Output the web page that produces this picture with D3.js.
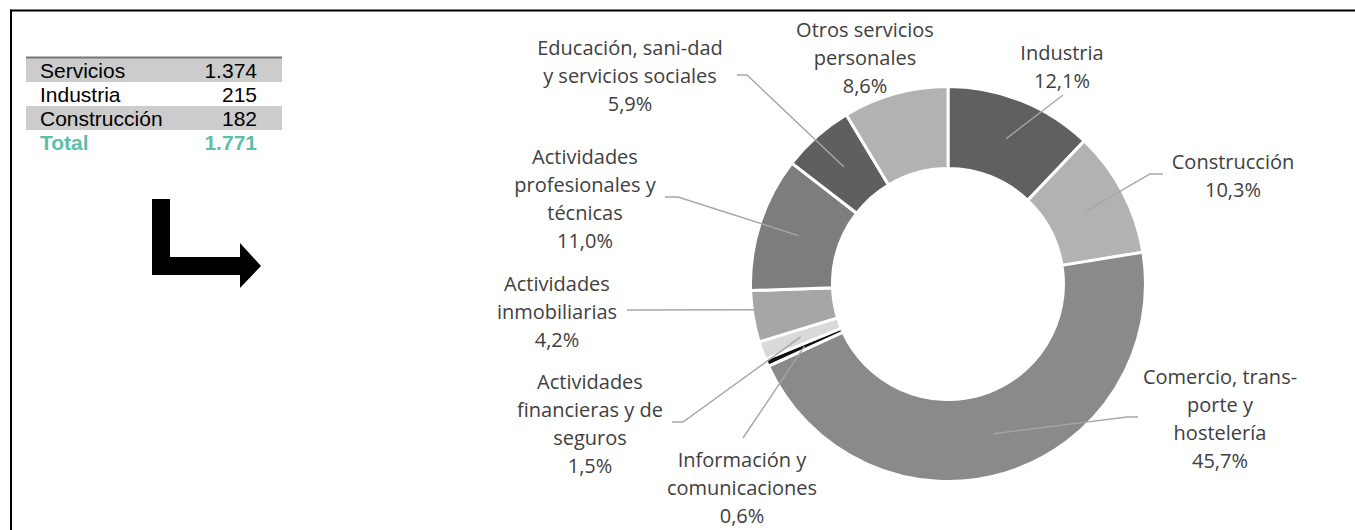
<!DOCTYPE html>
<html>
<head>
<meta charset="utf-8">
<script src="https://cdn.jsdelivr.net/npm/d3@7"></script>
<style>
  html, body { margin: 0; padding: 0; background: #fff; }
  svg { display: block; }
</style>
</head>
<body>
<svg id="chart" width="1355" height="530"></svg>
<script>
// Employment by sector (thousands) shown in the summary table
const sectorNames = ["Servicios", "Industria", "Construcción"];
const sectorValues = ["1.374", "215", "182"];
const totalLabel = "Total";
const totalValue = "1.771";

// Breakdown by activity branch (% of total)
const categories = [
  "Industria",
  "Construcción",
  "Comercio, trans-porte y hostelería",
  "Información y comunicaciones",
  "Actividades financieras y de seguros",
  "Actividades inmobiliarias",
  "Actividades profesionales y técnicas",
  "Educación, sani-dad y servicios sociales",
  "Otros servicios personales"
];
const shares = [12.1, 10.3, 45.7, 0.6, 1.5, 4.2, 11.0, 5.9, 8.6];

// How each category name wraps on its label
const labelLines = [
  ["Industria"],
  ["Construcción"],
  ["Comercio, trans-", "porte y", "hostelería"],
  ["Información y", "comunicaciones"],
  ["Actividades", "financieras y de", "seguros"],
  ["Actividades", "inmobiliarias"],
  ["Actividades", "profesionales y", "técnicas"],
  ["Educación, sani-dad", "y servicios sociales"],
  ["Otros servicios", "personales"]
];

const sliceColors = ["#606060", "#b2b2b2", "#8a8a8a", "#111111", "#d9d9d9",
                     "#a6a6a6", "#7d7d7d", "#5f5f5f", "#b2b2b2"];

// Label placement: centre x, centre y of first line, and leader route
const labelLayout = [
  { x: 1062, y: 53,  route: [[1063, 95]] },
  { x: 1233, y: 162, route: [[1150, 174], [1163, 174]] },
  { x: 1220, y: 377, route: [[1127, 417], [1138, 417]] },
  { x: 742,  y: 460, route: [[743, 438]] },
  { x: 590,  y: 382, route: [[683, 422], [672, 422]] },
  { x: 557,  y: 284, route: [[627, 310]] },
  { x: 585,  y: 157, route: [[678, 197], [665, 197]] },
  { x: 630,  y: 48,  route: [[747, 75], [737, 75]] },
  { x: 865,  y: 30,  route: null }
];

const svg = d3.select("#chart");

// Frame lines (top and left)
svg.append("line").attr("x1", 10).attr("x2", 1355).attr("y1", 10.5).attr("y2", 10.5)
  .attr("stroke", "#000").attr("stroke-width", 2);
svg.append("line").attr("x1", 11).attr("x2", 11).attr("y1", 9.5).attr("y2", 530)
  .attr("stroke", "#000").attr("stroke-width", 2);

// ---- Summary table ----
const table = svg.append("g").attr("font-family", "Liberation Sans, Arial, sans-serif")
  .attr("font-size", 21);
const rowH = 24, tableTop = 58, tableLeft = 26, tableRight = 282;
sectorNames.forEach((name, i) => {
  const y0 = tableTop + i * rowH;
  if (i % 2 === 0) {
    table.append("rect").attr("x", tableLeft).attr("y", y0)
      .attr("width", tableRight - tableLeft).attr("height", rowH).attr("fill", "#cccccc");
  }
  table.append("text").attr("x", 40).attr("y", y0 + 19.5).attr("fill", "#000").text(name);
  table.append("text").attr("x", 257).attr("y", y0 + 19.5).attr("text-anchor", "end")
    .attr("fill", "#000").text(sectorValues[i]);
});
table.append("line").attr("x1", tableLeft).attr("x2", tableRight)
  .attr("y1", tableTop - 0.5).attr("y2", tableTop - 0.5)
  .attr("stroke", "#777").attr("stroke-width", 2);
const totY = tableTop + sectorNames.length * rowH + 19.5;
table.append("text").attr("x", 40).attr("y", totY).attr("fill", "#5bbfa9")
  .attr("font-weight", "bold").text(totalLabel);
table.append("text").attr("x", 257).attr("y", totY).attr("text-anchor", "end")
  .attr("fill", "#5bbfa9").attr("font-weight", "bold").text(totalValue);

// ---- Bent arrow ----
svg.append("path")
  .attr("d", "M152,199 L170,199 L170,257 L240,257 L240,243 L261,266 L240,288 L240,275 L152,275 Z")
  .attr("fill", "#000");

// ---- Donut ----
const cx = 948, cy = 284;
const g = svg.append("g").attr("transform", `translate(${cx},${cy})`);

const pie = d3.pie().sort(null).value(d => d)(shares);
const arc = d3.arc().innerRadius(115.5).outerRadius(197.5);
const midArc = d3.arc().innerRadius(156.5).outerRadius(156.5);

g.selectAll("path.slice").data(pie).join("path")
  .attr("class", "slice")
  .attr("d", arc)
  .attr("fill", (d, i) => sliceColors[i])
  .attr("stroke", "#fff")
  .attr("stroke-width", 3)
  .attr("stroke-linejoin", "miter");

// Leader lines from slice centres to labels
const fmt = v => d3.format(".1f")(v).replace(".", ",") + "%";
pie.forEach((d, i) => {
  const lay = labelLayout[i];
  if (!lay.route) return;
  const c = midArc.centroid(d);
  const pts = [[cx + c[0], cy + c[1]], ...lay.route];
  svg.append("path")
    .attr("d", d3.line()(pts))
    .attr("fill", "none")
    .attr("stroke", "#a6a6a6")
    .attr("stroke-width", 1.4);
});

// Labels
const lineGap = 28;
const labels = svg.append("g")
  .attr("font-family", "Open Sans, sans-serif")
  .attr("font-size", 20)
  .attr("fill", "#404040")
  .attr("text-anchor", "middle");
categories.forEach((name, i) => {
  const lay = labelLayout[i];
  const lines = labelLines[i].concat([fmt(shares[i])]);
  const t = labels.append("text");
  lines.forEach((ln, k) => {
    t.append("tspan").attr("x", lay.x).attr("y", lay.y + k * lineGap + 7).text(ln);
  });
});
</script>
</body>
</html>
